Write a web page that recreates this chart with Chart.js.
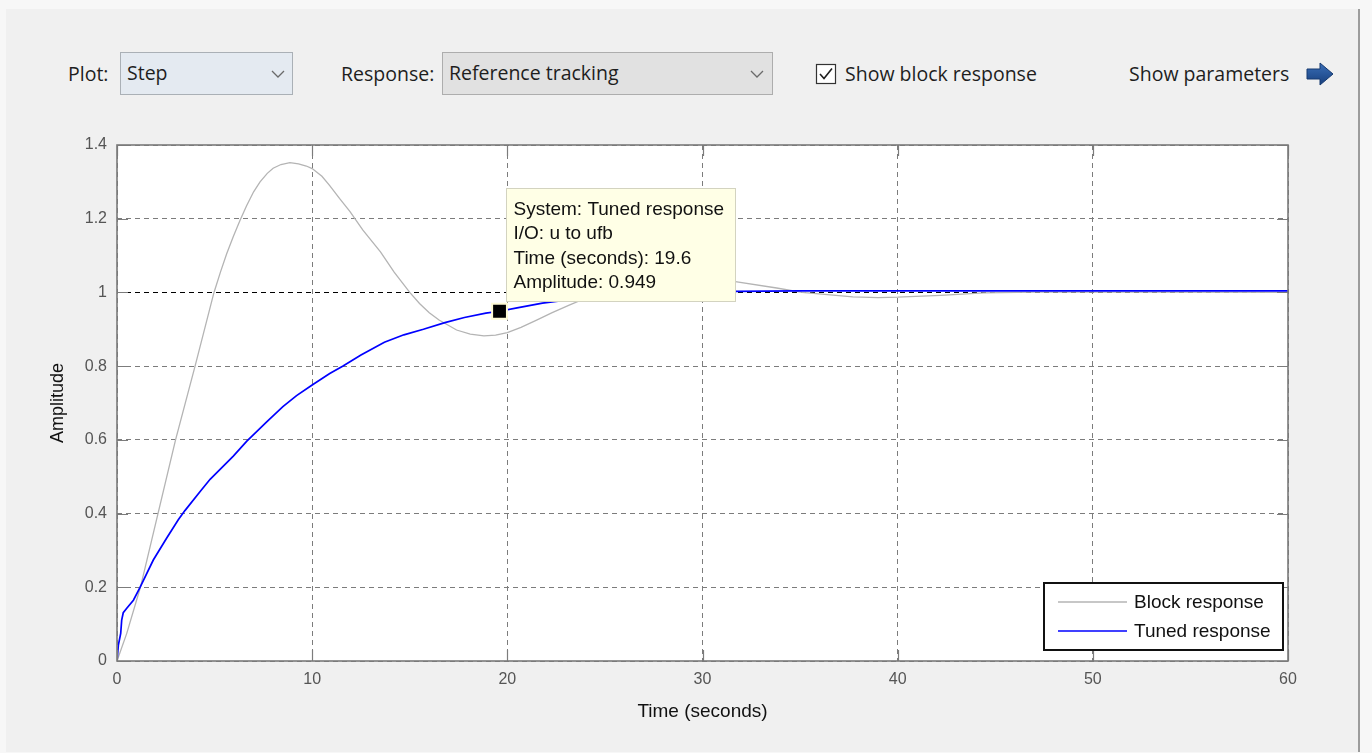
<!DOCTYPE html>
<html>
<head>
<meta charset="utf-8">
<script src="https://cdn.jsdelivr.net/npm/chart.js@4.4.1/dist/chart.umd.min.js"></script>
<style>
  html, body { margin: 0; padding: 0; width: 1372px; height: 753px; overflow: hidden; background: #f7f7f7; }
  #panel { position: absolute; left: 6px; top: 9px; width: 1352px; height: 743px; background: #f0f0f0; border-right: 2px solid #9c9c9c; }
  .ui { position: absolute; font-family: "Open Sans", "Noto Sans", sans-serif; font-size: 19.5px; line-height: 24px; color: #1e1e1e; white-space: nowrap; }
  .dd { position: absolute; border: 1px solid #adadad; box-sizing: border-box; }
  .dd span { position: absolute; left: 6px; top: 8px; font-family: "Open Sans", "Noto Sans", sans-serif; font-size: 19.5px; line-height: 24px; color: #1e1e1e; white-space: nowrap; }
  .dd svg { position: absolute; top: 17px; }
  #wrap { position: absolute; left: 0; top: 0; width: 1372px; height: 753px; }
</style>
</head>
<body>
<div id="panel"></div>

<div class="ui" style="left:68px; top:62px;">Plot:</div>
<div class="dd" style="left:120px; top:52px; width:173px; height:43px; background:#e4eaf1; border-color:#aab0b6;">
  <span>Step</span>
  <svg style="left:150px" width="14" height="9"><polyline points="1,1 7,7 13,1" fill="none" stroke="#6a6a6a" stroke-width="1.3"/></svg>
</div>

<div class="ui" style="left:341px; top:62px;">Response:</div>
<div class="dd" style="left:442px; top:52px; width:331px; height:43px; background:#e1e1e1;">
  <span>Reference tracking</span>
  <svg style="left:307px" width="14" height="9"><polyline points="1,1 7,7 13,1" fill="none" stroke="#6a6a6a" stroke-width="1.3"/></svg>
</div>

<svg style="position:absolute; left:815px; top:63px;" width="23" height="23">
  <rect x="1.5" y="1.5" width="19" height="19" fill="#ffffff" stroke="#333333" stroke-width="1.2"/>
  <polyline points="5,11 9,15.5 17,5.5" fill="none" stroke="#1e1e1e" stroke-width="1.6"/>
</svg>
<div class="ui" style="left:845px; top:62px;">Show block response</div>

<div class="ui" style="left:1129px; top:62px;">Show parameters</div>
<svg style="position:absolute; left:1305px; top:61px;" width="30" height="26">
  <defs><linearGradient id="ag" x1="0" y1="0" x2="0" y2="1"><stop offset="0" stop-color="#3a6fb8"/><stop offset="1" stop-color="#173f7d"/></linearGradient></defs>
  <polygon points="2,8 15,8 15,2 28,13 15,24 15,18 2,18" fill="url(#ag)" stroke="#163a70" stroke-width="1"/>
</svg>

<div id="wrap"><canvas id="chart"></canvas></div>

<script>
// Step response samples: time in seconds, amplitude
const blockTime = [0, 0.5, 1.2, 2.1, 3.0, 4.0, 4.97, 5.3, 5.62, 5.96, 6.3, 6.64, 7.0, 7.33, 7.7, 8.0, 8.4, 8.86, 9.3, 9.7, 10.0, 10.5, 10.9, 11.4, 11.94, 12.6, 13.5, 14.2, 15.0, 15.5, 16.0, 16.5, 17.4, 18.1, 18.8, 19.4, 20, 20.7, 21.5, 22.3, 23.2, 24.5, 26, 27.5, 29, 30.5, 31.6, 33.8, 35.1, 37.7, 39, 40, 42.2, 44.4, 47, 52, 60];
const blockAmp  = [0, 0.075, 0.2, 0.4, 0.6, 0.8, 1.0, 1.055, 1.105, 1.152, 1.195, 1.235, 1.273, 1.3, 1.323, 1.337, 1.347, 1.352, 1.349, 1.343, 1.336, 1.315, 1.29, 1.255, 1.219, 1.169, 1.11, 1.055, 1.0, 0.97, 0.945, 0.925, 0.898, 0.887, 0.882, 0.884, 0.891, 0.905, 0.925, 0.945, 0.966, 0.995, 1.02, 1.035, 1.04, 1.036, 1.03, 1.012, 1.0, 0.988, 0.986, 0.987, 0.992, 0.999, 1.001, 1.001, 1.0];

const tunedTime = [0, 0.07, 0.19, 0.24, 0.32, 0.5, 0.84, 1.18, 1.86, 2.54, 3.14, 3.48, 4.25, 4.77, 5.96, 6.64, 7.67, 8.5, 9.2, 10, 10.9, 11.56, 12.5, 13.7, 14.7, 15.7, 16.8, 17.8, 18.9, 19.6, 20.5, 21.8, 23, 24, 25, 26, 27, 28, 30, 35, 45, 60];
const tunedAmp  = [0, 0.043, 0.075, 0.111, 0.131, 0.143, 0.165, 0.2, 0.274, 0.333, 0.383, 0.408, 0.459, 0.493, 0.556, 0.596, 0.649, 0.69, 0.72, 0.749, 0.78, 0.8, 0.83, 0.865, 0.885, 0.9, 0.918, 0.932, 0.944, 0.949, 0.958, 0.971, 0.979, 0.985, 0.99, 0.994, 0.997, 0.999, 1.002, 1.004, 1.004, 1.004];

const seriesNames = ['Block response', 'Tuned response'];

const xTickValues = [0, 10, 20, 30, 40, 50, 60];
const xTickLabels = ['0', '10', '20', '30', '40', '50', '60'];
const yTickValues = [0, 0.2, 0.4, 0.6, 0.8, 1, 1.2, 1.4];
const yTickLabels = ['0', '0.2', '0.4', '0.6', '0.8', '1', '1.2', '1.4'];

// Data tip on the tuned response
const tipSystem = 'Tuned response';
const tipIO = 'u to ufb';
const tipTime = 19.6;
const tipAmp = 0.949;

const zip = (t, a) => t.map((v, i) => ({ x: v, y: a[i] }));

const chartFont = '"Liberation Sans", Arial, sans-serif';

// Plot box, inward tick marks, legend box and data tip
const decorations = {
  id: 'decorations',
  beforeDraw(chart) {
    const { ctx, chartArea: a } = chart;
    ctx.save();
    ctx.fillStyle = '#ffffff';
    ctx.fillRect(a.left, a.top, a.right - a.left, a.bottom - a.top);
    ctx.restore();
  },
  afterDatasetsDraw(chart) {
    const { ctx, chartArea: a, scales } = chart;
    ctx.save();

    // inward ticks
    ctx.strokeStyle = '#7c7c7c';
    ctx.lineWidth = 1.2;
    ctx.beginPath();
    xTickValues.forEach(v => {
      const px = Math.round(scales.x.getPixelForValue(v)) + 0.5;
      ctx.moveTo(px, a.bottom); ctx.lineTo(px, a.bottom - 11);
      ctx.moveTo(px, a.top); ctx.lineTo(px, a.top + 11);
    });
    yTickValues.forEach(v => {
      const py = Math.round(scales.y.getPixelForValue(v)) + 0.5;
      ctx.moveTo(a.left, py); ctx.lineTo(a.left + 11, py);
      ctx.moveTo(a.right, py); ctx.lineTo(a.right - 11, py);
    });
    ctx.stroke();

    // plot box
    ctx.lineWidth = 1.6;
    ctx.strokeStyle = '#7a7a7a';
    ctx.strokeRect(a.left, a.top, a.right - a.left, a.bottom - a.top);

    // legend
    const lw = 239, lh = 67;
    const lx = a.right - 5 - lw, ly = a.bottom - 11 - lh;
    ctx.fillStyle = '#ffffff';
    ctx.fillRect(lx, ly, lw, lh);
    ctx.lineWidth = 2;
    ctx.strokeStyle = '#111111';
    ctx.strokeRect(lx, ly, lw, lh);
    ctx.font = '19px ' + chartFont;
    ctx.textBaseline = 'middle';
    ctx.textAlign = 'left';
    chart.data.datasets.slice(0, 2).forEach((ds, i) => {
      const yy = ly + 19 + i * 29;
      ctx.strokeStyle = ds.borderColor;
      ctx.lineWidth = ds.borderWidth;
      ctx.beginPath();
      ctx.moveTo(lx + 14, yy); ctx.lineTo(lx + 83, yy);
      ctx.stroke();
      ctx.fillStyle = '#111111';
      ctx.fillText(ds.label, lx + 90, yy + 1);
    });

    // data tip box
    const mx = scales.x.getPixelForValue(tipTime);
    const my = scales.y.getPixelForValue(tipAmp);
    const bx = Math.round(mx + 6) + 0.5, by = Math.round(my - 123) + 0.5;
    const bw = 229, bh = 113;
    ctx.fillStyle = '#ffffe6';
    ctx.fillRect(bx, by, bw, bh);
    ctx.lineWidth = 1;
    ctx.strokeStyle = '#d3d3c0';
    ctx.strokeRect(bx, by, bw, bh);
    const lines = [
      'System: ' + tipSystem,
      'I/O: ' + tipIO,
      'Time (seconds): ' + tipTime,
      'Amplitude: ' + tipAmp
    ];
    ctx.fillStyle = '#111111';
    ctx.font = '19px ' + chartFont;
    lines.forEach((t, i) => ctx.fillText(t, bx + 7, by + 21 + i * 24.5));

    ctx.restore();
  }
};

new Chart(document.getElementById('chart'), {
  type: 'line',
  data: {
    datasets: [
      { label: seriesNames[0], data: zip(blockTime, blockAmp), borderColor: '#b4b4b4', borderWidth: 1.3, pointRadius: 0, tension: 0, order: 2 },
      { label: seriesNames[1], data: zip(tunedTime, tunedAmp), borderColor: '#0000ff', borderWidth: 1.7, pointRadius: 0, tension: 0, order: 1 },
      { label: 'tip', data: [{ x: tipTime, y: tipAmp }], showLine: false, pointStyle: 'rect', pointRadius: 10.5, backgroundColor: '#000000', borderColor: '#fffbd6', borderWidth: 2, order: 0 }
    ]
  },
  options: {
    responsive: true,
    maintainAspectRatio: false,
    devicePixelRatio: 1,
    animation: false,
    events: [],
    layout: { padding: { left: 0, top: 145, right: 84, bottom: 0 } },
    plugins: { legend: { display: false }, tooltip: { enabled: false } },
    scales: {
      x: {
        type: 'linear', min: 0, max: 60,
        afterBuildTicks: s => { s.ticks = xTickValues.map(v => ({ value: v })); },
        afterFit: s => { s.height = 92; },
        ticks: { callback: (v, i) => xTickLabels[i], color: '#555555', font: { family: chartFont, size: 16 }, padding: 9, maxRotation: 0 },
        grid: { color: '#7c7c7c', lineWidth: 1, drawTicks: false },
        border: { display: false, dash: [5, 4] },
        title: { display: true, text: 'Time (seconds)', color: '#111111', font: { family: chartFont, size: 19 }, padding: { top: 0, bottom: 30 } }
      },
      y: {
        type: 'linear', min: 0, max: 1.4,
        afterBuildTicks: s => { s.ticks = yTickValues.map(v => ({ value: v })); },
        afterFit: s => { s.width = 117; },
        ticks: { callback: (v, i) => yTickLabels[i], color: '#555555', font: { family: chartFont, size: 16 }, padding: 10 },
        grid: { color: c => (c.tick && c.tick.value === 1 ? '#000000' : '#7c7c7c'), lineWidth: 1, drawTicks: false },
        border: { display: false, dash: [5, 4] },
        title: { display: true, text: 'Amplitude', color: '#111111', font: { family: chartFont, size: 18 }, padding: { top: 47, bottom: 0 } }
      }
    }
  },
  plugins: [decorations]
});
</script>
</body>
</html>
